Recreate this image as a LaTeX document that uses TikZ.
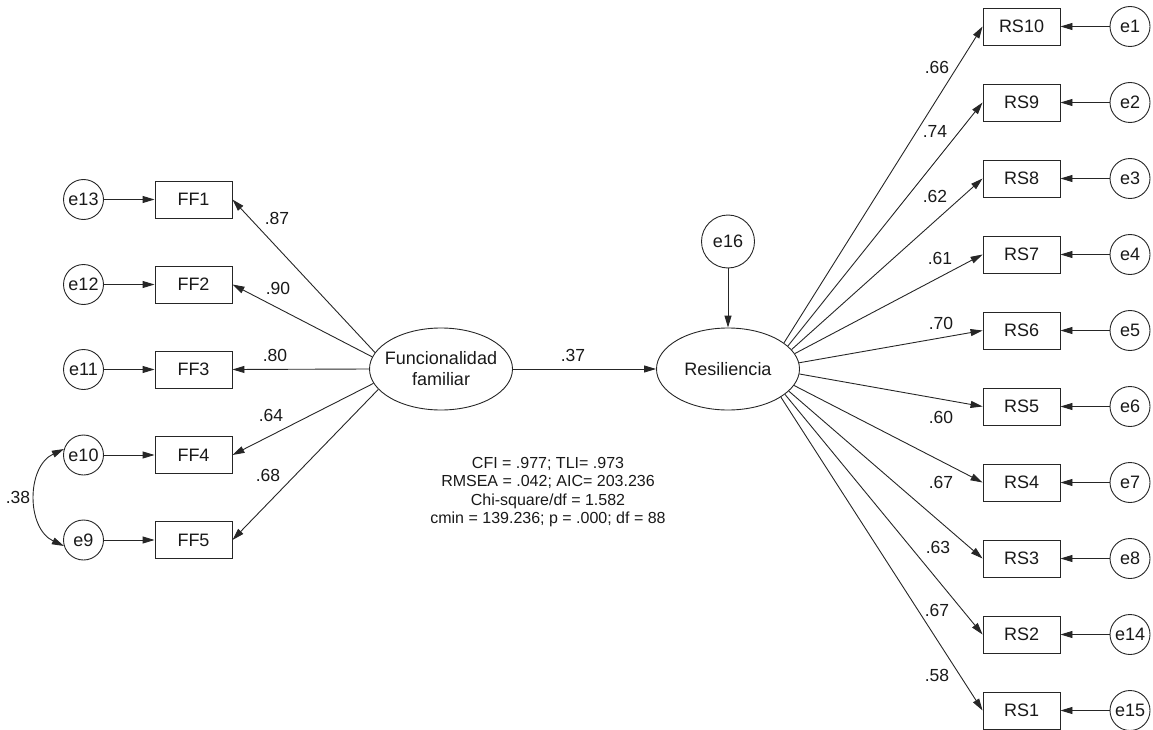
\documentclass[tikz,border=0pt]{standalone}
\usepackage{fontspec}
\setmainfont{Liberation Sans}
\usetikzlibrary{arrows.meta,shapes.geometric}
\begin{document}
\begin{tikzpicture}[x=1pt,y=-1pt,
  line width=0.9pt, draw=black!85,
  every node/.style={font=\fontsize{18}{21}\selectfont, inner sep=0pt, text=black!90},
  obs/.style={draw, rectangle, minimum width=77pt, minimum height=37pt},
  err/.style={draw, circle, minimum size=40pt},
  lat/.style={draw, ellipse, minimum width=143pt, minimum height=82pt},
  arr/.style={-{Triangle[length=12pt,width=7pt]}},
  cov/.style={{Triangle[length=12pt,width=7pt]}-{Triangle[length=12pt,width=7pt]}},
  lbl/.style={font=\fontsize{17.5}{20}\selectfont},
]
\useasboundingbox (0,0) rectangle (1153,730);

% latent variables
\node[lat] (F) at (441,369) {};
\node[align=center] (Ft) at (F) {Funcionalidad\\familiar};
\node[lat] (R) at (728,369) {};
\node (Rt) at (R) {Resiliencia};
\node[err, minimum size=53pt] (e16) at (728,241.5) {e16};
\draw[arr] (e16) -- (R);
\draw[arr] (F) -- (R);
\node[lbl] (l37) at (573,355) {.37};

% left indicators
\foreach \n/\e/\y/\a/\l/\lx/\ly in {1/e13/199.5/166/.87/277/218, 2/e12/284.5/170/.90/278/288, 3/e11/369.5/180/.80/275/355, 4/e10/455/192/.64/271/415, 5/e9/540/198/.68/268/475}{
  \node[obs] (FF\n) at (193.5,\y) {FF\n};
  \node[err] (\e) at (83.5,\y) {\e};
  \draw[arr] (\e) -- (FF\n);
  \draw[arr] (F.\a) -- (FF\n.east);
  \node[lbl] (lFF\n) at (\lx,\ly) {\l};
}
\draw[cov] (e10.163) to[out=205,in=155,looseness=1.1] (e9.197);
\node[lbl] (l38) at (18,497) {.38};

% right indicators
\foreach \n/\e/\y/\a/\l/\lx/\ly in {10/e1/26.5/25/.66/937/67, 9/e2/102.5/21/.74/935/131, 8/e3/178.5/17.5/.62/935/196, 7/e4/254.5/13.5/.61/940/258, 6/e5/330.5/5/.70/941/323, 5/e6/406.5/356/.60/941/417, 4/e7/482.5/346/.67/941/482, 3/e8/558.5/340.5/.63/938/547, 2/e14/634.5/336/.67/937/610, 1/e15/710.5/332/.58/937/675}{
  \node[obs] (RS\n) at (1021.5,\y) {RS\n};
  \node[err] (\e) at (1130,\y) {\e};
  \draw[arr] (\e) -- (RS\n);
  \draw[arr] (R.\a) -- (RS\n.west);
  \node[lbl] (lRS\n) at (\lx,\ly) {\l};
}

% fit indices
\node[align=center, font=\fontsize{16}{18.3}\selectfont] (fit) at (548,492) {CFI = .977; TLI= .973\\RMSEA = .042; AIC= 203.236\\Chi-square/df = 1.582\\cmin = 139.236; p = .000; df = 88};
\end{tikzpicture}
\end{document}
